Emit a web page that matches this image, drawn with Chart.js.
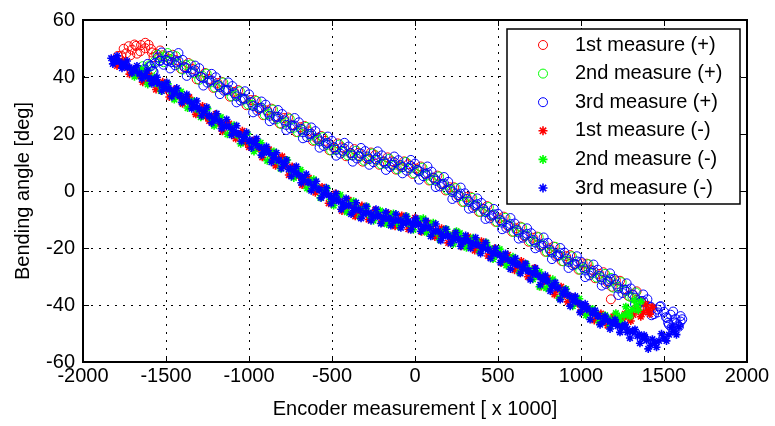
<!DOCTYPE html>
<html>
<head>
<meta charset="utf-8">
<title>Bending angle vs encoder measurement</title>
<script src="https://cdn.jsdelivr.net/npm/chart.js"></script>
<style>
  html, body { margin: 0; padding: 0; background: #fff; }
  #wrap { width: 775px; height: 426px; }
</style>
</head>
<body>
<div id="wrap"><canvas id="bendingChart" width="775" height="426"></canvas></div>
<script>
// Eixos
const X_TICKS = [-2000, -1500, -1000, -500, 0, 500, 1000, 1500, 2000];
const Y_TICKS = [-60, -40, -20, 0, 20, 40, 60];

const SERIES_LABELS = [
    '1st measure (+)', '2nd measure (+)', '3rd measure (+)',
    '1st measure (-)', '2nd measure (-)', '3rd measure (-)'
];
const SERIES_COLORS = ['#ff0000', '#00ff00', '#0000ff', '#ff0000', '#00ff00', '#0000ff'];

// Ramo superior (+) : [encoder, angulo]
const measure1Plus = [
    [-1805,46.0],[-1770,47.5],[-1740,48.3],[-1705,49.6],[-1680,50.9],[-1650,51.2],[-1625,50.1],[-1590,49.8],
    [-1560,48.2],[-1520,47.6],[-1480,46.4],[-1440,45.9],[-1390,43.6],[-1340,42.8],[-1290,40.1],[-1240,39.3],
    [-1190,37.9],[-1140,35.4],[-1090,34.8],[-1040,32.6],[-990,31.9],[-940,28.8],[-890,28.3],[-840,25.9],
    [-790,25.6],[-740,23.1],[-690,22.4],[-640,20.9],[-590,18.2],[-540,17.6],[-490,15.1],[-440,15.3],
    [-390,13.2],[-340,13.4],[-290,11.3],[-240,12.6],[-190,10.2],[-140,10.4],[-90,8.6],[-40,9.4],
    [10,7.9],[60,6.1],[110,4.6],[160,2.4],[210,1.3],[260,-1.6],[310,-2.1],[360,-5.3],
    [410,-6.2],[460,-8.7],[510,-9.6],[560,-12.3],[610,-13.1],[660,-15.9],[710,-16.4],[760,-19.2],
    [810,-20.1],[860,-22.8],[910,-22.9],[960,-25.7],[1010,-25.4],[1060,-27.6],[1110,-29.1],[1160,-32.0],
    [1180,-38.0],[1210,-31.4],[1260,-34.6],[1310,-36.2],[1360,-38.9],[1400,-40.3],[1430,-41.2],
    [-1775,45.9],[-1725,50.8],[-1675,48.2],[-1625,52.0],[-1575,47.0],[-1535,49.3],[-1460,47.8],[-1410,42.9],
    [-1365,44.9],[-1315,39.2],[-1265,41.4],[-1215,36.2],[-1165,38.3],[-1115,33.1],[-1065,35.4],[-1015,30.1],
    [-965,31.9],[-915,26.6],[-865,28.9],[-815,23.7],[-765,25.8],[-715,20.7],[-665,22.8],[-615,17.6],
    [-565,19.3],[-515,14.3],[-465,16.7],[-415,12.2],[-365,14.7],[-315,10.3],[-265,13.5],[-215,9.2],
    [-165,11.8],[-115,7.5],[-65,10.4],[-15,6.0],[35,8.6],[85,3.7],[135,5.4],[185,0.2],
    [235,1.3],[285,-3.8],[335,-2.0],[385,-7.3],[435,-5.3],[485,-10.8],[535,-9.0],[585,-14.3],
    [635,-12.5],[685,-17.8],[735,-16.0],[785,-21.3],[835,-19.5],[885,-24.6],[935,-22.5],[985,-27.6],
    [1035,-25.5],[1085,-30.6],[1135,-28.5],[1185,-33.6],[1235,-31.5],[1285,-36.8],[1335,-35.2],[1385,-41.2],
    [-1790,47.4],[-1755,49.9],[-1715,47.6],[-1690,51.4],[-1655,49.0],[-1605,51.3],[-1585,48.6]
];
const measure2Plus = [
    [-1655,41.8],[-1630,42.9],[-1600,44.1],[-1570,45.3],[-1540,46.6],[-1505,47.2],[-1470,46.1],[-1430,44.6],
    [-1380,44.2],[-1330,41.3],[-1280,40.4],[-1230,38.1],[-1180,37.0],[-1130,35.2],[-1080,33.6],[-1030,32.1],
    [-980,30.2],[-930,29.1],[-880,27.0],[-830,25.3],[-780,24.1],[-730,22.2],[-680,21.6],[-630,19.4],
    [-580,17.9],[-530,16.2],[-480,14.6],[-430,13.8],[-380,12.6],[-330,12.1],[-280,11.4],[-230,10.9],
    [-180,9.7],[-130,9.1],[-80,8.3],[-30,7.9],[20,7.2],[70,5.4],[120,4.1],[170,2.2],
    [220,0.1],[270,-1.8],[320,-3.4],[370,-5.2],[420,-7.1],[470,-8.4],[520,-10.6],[570,-12.1],
    [620,-14.0],[670,-15.6],[720,-17.8],[770,-19.0],[820,-21.3],[870,-22.6],[920,-24.4],[970,-25.8],
    [1020,-27.2],[1070,-28.9],[1120,-30.3],[1180,-30.5],[1170,-31.9],[1220,-33.6],[1270,-35.1],[1310,-37.4],
    [1350,-39.2],
    [-1640,43.8],[-1615,41.9],[-1585,42.8],[-1550,47.8],[-1515,45.2],[-1490,48.4],[-1440,47.3],[-1400,42.6],
    [-1350,44.4],[-1300,39.0],[-1255,41.2],[-1205,36.3],[-1155,38.1],[-1105,33.2],[-1055,35.0],[-1005,30.4],
    [-955,31.6],[-905,26.7],[-855,28.6],[-805,23.5],[-755,25.4],[-705,20.6],[-655,22.5],[-605,17.8],
    [-555,18.9],[-505,14.2],[-455,16.3],[-405,12.5],[-355,14.1],[-305,10.6],[-255,13.2],[-205,9.4],
    [-155,11.3],[-105,7.6],[-55,10.2],[-5,6.2],[45,8.2],[95,3.8],[145,5.1],[195,0.4],
    [245,1.0],[295,-3.9],[345,-2.4],[395,-7.4],[445,-5.6],[495,-10.9],[545,-9.4],[595,-14.4],
    [645,-12.8],[695,-17.6],[745,-16.2],[795,-21.4],[845,-19.6],[895,-24.7],[945,-22.9],[995,-27.6],
    [1045,-25.7],[1095,-30.4],[1145,-29.1],[1195,-33.9],[1245,-32.0],[1295,-37.1],[1330,-35.6],[1370,-40.4]
];
const measure3Plus = [
    [-1625,42.6],[-1595,43.8],[-1565,44.9],[-1535,45.6],[-1500,46.0],[-1465,45.2],[-1425,45.6],[-1375,43.1],
    [-1325,42.4],[-1275,39.6],[-1225,38.8],[-1175,36.4],[-1125,35.6],[-1075,33.2],[-1025,32.4],[-975,29.8],
    [-925,29.3],[-875,26.4],[-825,26.0],[-775,23.2],[-725,23.0],[-675,20.6],[-625,20.1],[-575,17.4],
    [-525,16.9],[-475,14.4],[-425,14.9],[-375,12.4],[-325,13.1],[-275,11.2],[-225,11.8],[-175,9.6],
    [-125,10.1],[-75,8.4],[-25,8.8],[25,6.9],[75,6.3],[125,3.6],[175,2.6],[225,-0.4],
    [275,-0.9],[325,-3.9],[375,-4.6],[425,-7.4],[475,-8.2],[525,-11.1],[575,-11.6],[625,-14.6],
    [675,-15.0],[725,-18.1],[775,-18.4],[825,-21.6],[875,-21.8],[925,-24.9],[975,-24.7],[1025,-27.9],
    [1075,-28.0],[1125,-31.1],[1175,-31.0],[1225,-34.2],[1275,-34.6],[1325,-37.4],[1375,-38.6],[1420,-40.6],
    [1460,-41.6],[1500,-42.4],[1540,-43.4],[1570,-44.9],[1600,-45.8],[1590,-47.6],[1560,-48.3],[1530,-46.9],
    [-1610,44.6],[-1580,42.1],[-1550,46.9],[-1515,44.3],[-1480,47.4],[-1445,44.1],[-1400,46.0],[-1350,41.6],
    [-1300,43.1],[-1250,38.0],[-1200,39.9],[-1150,35.2],[-1100,36.8],[-1050,31.7],[-1000,33.9],[-950,28.2],
    [-900,30.3],[-850,25.1],[-800,27.0],[-750,22.0],[-700,24.1],[-650,18.9],[-600,21.0],[-550,15.8],
    [-500,17.6],[-450,13.1],[-400,15.6],[-350,11.4],[-300,14.0],[-250,10.1],[-200,12.5],[-150,8.4],
    [-100,10.8],[-50,7.1],[0,9.6],[50,5.2],[100,6.8],[150,1.6],[200,3.2],[250,-2.2],
    [300,-0.8],[350,-5.9],[400,-4.2],[450,-9.6],[500,-8.0],[550,-12.9],[600,-11.4],[650,-16.4],
    [700,-14.8],[750,-19.6],[800,-18.2],[850,-23.0],[900,-21.6],[950,-26.1],[1000,-24.8],[1050,-29.6],
    [1100,-27.6],[1150,-32.6],[1200,-30.8],[1250,-35.8],[1300,-34.2],[1350,-39.4],[1400,-38.0],[1440,-43.2],
    [1480,-40.4],[1520,-44.6],[1555,-42.3],[1585,-47.2],[1610,-45.0],[1575,-46.4],[1545,-47.9],
    [-1588,43.9],[-1538,45.8],[-1488,45.6],[-1438,45.1],[-1388,43.4],[-1338,41.9],[-1288,40.0],[-1238,38.7],
    [-1188,37.2],[-1138,35.5],[-1088,34.3],[-1038,32.4],[-988,31.2],[-938,29.1],[-888,27.8],[-838,26.1],
    [-788,24.8],[-738,23.0],[-688,21.8],[-638,20.0],[-588,18.7],[-538,16.7],[-488,15.4],[-438,14.1],
    [-388,13.4],[-338,12.2],[-288,12.1],[-238,11.1],[-188,10.4],[-138,9.2],[-88,9.1],[-38,8.1],
    [12,7.4],[62,6.0],[112,4.7],[162,2.4],[212,0.7],[262,-1.5],[312,-2.8],[362,-5.0],
    [412,-6.3],[462,-8.6],[512,-10.2],[562,-12.1],[612,-13.7],[662,-15.6],[712,-17.2],[762,-19.1],
    [812,-20.7],[862,-22.5],[912,-23.7],[962,-25.6],[1012,-26.7],[1062,-28.6],[1112,-29.8],[1162,-31.6],
    [1212,-32.8],[1262,-34.6],[1312,-36.4],[1362,-38.6],[1412,-40.7],[1462,-42.6],[1512,-44.3],[1562,-46.1],
    [-1575,41.8],[-1525,48.6],[-1475,43.0],[-1425,48.4],[-1375,40.4],[-1325,44.0],[-1275,37.0],[-1225,41.1],
    [-1175,34.0],[-1125,38.1],[-1075,31.1],[-1025,35.0],[-975,27.6],[-925,31.4],[-875,24.5],[-825,28.4],
    [-775,21.4],[-725,25.6],[-675,18.5],[-625,22.3],[-575,15.2],[-525,19.1],[-475,12.4],[-425,16.9],
    [-375,10.3],[-325,15.1],[-275,9.2],[-225,13.9],[-175,7.4],[-125,12.1],[-75,6.2],[-25,10.9],
    [25,4.0],[75,8.6],[125,1.4],[175,4.9],[225,-2.8],[275,1.2],[325,-6.2],[375,-2.6],
    [425,-9.8],[475,-6.3],[525,-13.4],[575,-9.5],[625,-16.7],[675,-13.1],[725,-20.1],[775,-16.3],
    [825,-23.9],[875,-20.0],[925,-27.0],[975,-22.9],[1025,-30.2],[1075,-25.8],[1125,-33.2],[1175,-28.9],
    [1225,-36.5],[1275,-32.4],[1325,-39.6],[1375,-36.3],[1425,-43.6],[1475,-40.6],[1525,-46.2],[1600,-43.9]
];

// Ramo inferior (-)
const measure1Minus = [
    [1430,-40.8],[1405,-41.9],[1375,-42.6],[1345,-42.1],[1315,-43.5],[1285,-44.2],[1250,-44.8],[1215,-45.6],
    [1180,-45.1],[1140,-44.6],[1100,-43.9],[1060,-42.6],[1020,-40.4],[980,-39.6],[940,-37.1],[900,-36.4],
    [860,-34.6],[820,-32.1],[780,-31.6],[740,-29.2],[700,-28.9],[660,-26.6],[620,-26.4],[580,-24.1],
    [540,-23.9],[500,-21.6],[460,-21.8],[420,-19.1],[380,-19.6],[340,-17.4],[300,-18.3],[260,-16.4],
    [220,-16.9],[180,-14.8],[140,-15.6],[100,-12.4],[60,-13.4],[20,-11.2],[-20,-12.1],[-60,-10.6],
    [-100,-11.4],[-140,-9.3],[-180,-10.1],[-220,-8.6],[-260,-9.4],[-300,-6.9],[-340,-7.4],[-380,-5.1],
    [-420,-5.6],[-460,-3.0],[-500,-3.4],[-540,-0.8],[-580,0.6],[-620,2.9],[-660,3.4],[-700,5.1],
    [-740,8.6],[-780,8.9],[-820,11.4],[-860,11.1],[-900,14.6],[-940,14.9],[-980,17.6],[-1020,16.9],
    [-1060,19.8],[-1100,20.4],[-1140,23.9],[-1180,23.6],[-1220,25.9],[-1260,26.1],[-1300,28.4],[-1340,30.3],
    [-1380,32.6],[-1420,33.1],[-1460,34.9],[-1500,35.6],[-1540,37.4],[-1580,38.4],[-1620,39.6],[-1660,40.5],
    [-1700,41.8],[-1740,43.6],[-1780,44.6],[-1810,46.1],
    [1415,-43.2],[1390,-39.9],[1360,-44.1],[1330,-41.0],[1300,-45.6],[1265,-43.1],[1230,-46.8],[1195,-44.0],
    [1160,-47.2],[1120,-43.0],[1080,-45.4],[1040,-41.0],[1000,-42.3],[960,-37.4],[920,-38.9],[880,-33.6],
    [840,-36.3],[800,-30.4],[760,-33.5],[720,-27.0],[680,-30.1],[640,-24.6],[600,-27.8],[560,-22.4],
    [520,-25.2],[480,-20.1],[440,-22.8],[400,-17.6],[360,-20.9],[320,-16.0],[280,-19.4],[240,-14.9],
    [200,-18.2],[160,-13.1],[120,-16.1],[80,-11.2],[40,-14.3],[0,-9.4],[-40,-13.4],[-80,-8.6],
    [-120,-12.4],[-160,-7.8],[-200,-11.1],[-240,-6.7],[-280,-10.0],[-320,-5.1],[-360,-8.9],[-400,-3.1],
    [-440,-7.0],[-480,-0.9],[-520,-4.3],[-560,1.4],[-600,-0.6],[-640,4.6],[-680,2.1],[-720,8.0],
    [-760,5.6],[-800,12.1],[-840,8.9],[-880,14.6],[-920,11.8],[-960,17.9],[-1000,15.4],[-1040,21.1],
    [-1080,18.4],[-1120,23.6],[-1160,21.0],[-1200,27.0],[-1240,24.6],[-1280,29.8],[-1320,26.9],[-1360,32.9],
    [-1400,30.6],[-1440,35.8],[-1480,33.0],[-1520,38.3],[-1560,35.6],[-1600,40.6],[-1640,38.2],[-1680,43.2],
    [-1720,41.0],[-1760,45.6],[-1795,43.9]
];
const measure2Minus = [
    [1360,-38.8],[1335,-40.2],[1310,-41.6],[1285,-42.4],[1260,-43.6],[1230,-44.1],[1200,-45.3],[1165,-44.6],
    [1130,-45.2],[1090,-43.1],[1050,-41.4],[1010,-40.6],[970,-38.1],[930,-36.9],[890,-35.6],[850,-33.1],
    [810,-32.4],[770,-30.1],[750,-33.6],[730,-29.6],[690,-27.4],[650,-27.1],[610,-25.1],[570,-24.6],
    [530,-22.8],[490,-22.3],[450,-20.1],[410,-19.6],[370,-17.6],[330,-18.1],[290,-16.6],[250,-14.1],
    [210,-15.4],[170,-14.1],[130,-14.6],[90,-12.1],[50,-9.6],[10,-10.6],[-30,-11.6],[-70,-10.1],
    [-110,-10.9],[-150,-8.9],[-190,-9.6],[-230,-7.9],[-270,-8.6],[-310,-6.4],[-350,-6.1],[-390,-4.4],
    [-430,-4.9],[-470,-2.4],[-510,-2.9],[-550,0.1],[-590,1.1],[-630,3.4],[-670,4.1],[-710,6.6],
    [-750,7.4],[-790,10.1],[-830,10.6],[-870,12.9],[-910,13.6],[-950,16.4],[-990,16.9],[-1030,19.1],
    [-1070,19.6],[-1110,22.1],[-1150,22.6],[-1190,25.1],[-1230,25.6],[-1270,28.1],[-1310,28.6],[-1350,31.4],
    [-1390,31.9],[-1430,34.4],[-1470,35.1],[-1510,37.1],[-1550,37.6],[-1590,39.4],[-1630,40.1],[-1670,41.9],
    [-1700,42.4],
    [1345,-41.8],[1320,-38.4],[1295,-44.0],[1270,-40.6],[1240,-46.1],[1210,-42.9],[1175,-47.4],[1145,-43.6],
    [1110,-46.1],[1070,-41.4],[1030,-43.6],[990,-37.8],[950,-40.4],[910,-34.4],[870,-37.6],[830,-31.0],
    [790,-34.1],[750,-28.4],[710,-31.0],[670,-25.6],[630,-28.6],[590,-23.1],[550,-26.1],[510,-20.4],
    [470,-23.9],[430,-18.1],[390,-21.4],[350,-16.4],[310,-19.9],[270,-14.8],[230,-18.6],[190,-13.4],
    [150,-17.1],[110,-11.1],[70,-14.6],[30,-9.9],[-10,-13.6],[-50,-8.9],[-90,-12.6],[-130,-7.9],
    [-170,-11.6],[-210,-6.9],[-250,-10.4],[-290,-5.4],[-330,-9.1],[-370,-3.6],[-410,-7.4],[-450,-1.4],
    [-490,-5.1],[-530,0.9],[-570,-2.4],[-610,4.1],[-650,0.9],[-690,7.4],[-730,4.6],[-770,10.9],
    [-810,7.9],[-850,13.9],[-890,10.6],[-930,16.9],[-970,13.9],[-1010,20.1],[-1050,16.6],[-1090,23.1],
    [-1130,19.9],[-1170,25.9],[-1210,22.9],[-1250,28.9],[-1290,25.9],[-1330,31.6],[-1370,29.1],[-1410,34.9],
    [-1450,32.1],[-1490,37.6],[-1530,35.1],[-1570,39.9],[-1610,37.4],[-1650,42.6],[-1690,40.1]
];
const measure3Minus = [
    [1590,-47.6],[1560,-49.2],[1530,-50.4],[1500,-51.6],[1470,-52.6],[1445,-53.4],[1420,-54.1],[1395,-52.4],
    [1370,-51.6],[1340,-50.9],[1310,-49.4],[1280,-49.6],[1250,-47.9],[1220,-47.4],[1190,-46.6],[1160,-45.4],
    [1130,-45.9],[1100,-43.9],[1070,-43.1],[1040,-41.1],[1010,-40.9],[980,-39.1],[950,-38.6],[920,-36.4],
    [890,-36.1],[860,-33.9],[830,-33.6],[800,-31.6],[770,-31.1],[740,-29.4],[710,-29.1],[680,-27.9],
    [650,-27.4],[620,-25.9],[590,-25.4],[560,-24.1],[530,-23.6],[500,-22.1],[470,-21.9],[440,-20.4],
    [410,-20.1],[380,-18.9],[350,-18.6],[320,-17.4],[290,-17.9],[260,-16.6],[230,-17.1],[200,-15.6],
    [170,-15.9],[140,-14.1],[110,-14.4],[80,-12.6],[50,-13.1],[20,-11.4],[-10,-12.0],[-40,-10.6],
    [-70,-11.4],[-100,-10.1],[-130,-10.6],[-160,-9.4],[-190,-9.9],[-220,-8.4],[-250,-9.1],[-280,-7.6],
    [-310,-8.1],[-340,-6.4],[-370,-6.9],[-400,-5.1],[-430,-5.4],[-460,-3.6],[-490,-3.1],[-520,-1.4],
    [-550,-1.1],[-580,0.6],[-610,1.4],[-640,3.1],[-670,3.9],[-700,5.6],[-730,6.9],[-760,7.6],
    [-790,9.4],[-820,10.6],[-850,11.6],[-880,13.4],[-910,13.6],[-940,15.4],[-970,16.9],[-1000,17.4],
    [-1030,19.1],[-1060,19.9],[-1090,21.1],[-1120,22.6],[-1150,22.9],[-1180,24.6],[-1210,25.4],[-1240,26.1],
    [-1270,27.9],[-1300,28.6],[-1330,29.9],[-1360,31.4],[-1390,32.1],[-1420,33.6],[-1450,34.4],[-1480,35.6],
    [-1510,36.4],[-1540,37.6],[-1570,38.9],[-1600,39.4],[-1630,40.6],[-1660,41.4],[-1690,42.6],[-1720,43.4],
    [-1750,44.1],[-1780,45.4],[-1810,45.9],[-1830,46.6],
    [1575,-50.4],[1545,-47.9],[1515,-52.6],[1485,-50.1],[1455,-54.8],[1430,-52.0],[1405,-55.4],[1380,-50.6],
    [1355,-53.4],[1325,-48.6],[1295,-51.6],[1265,-46.9],[1235,-49.6],[1205,-45.1],[1175,-48.4],[1145,-43.9],
    [1115,-46.9],[1085,-41.9],[1055,-45.1],[1025,-39.6],[995,-42.6],[965,-36.9],[935,-40.4],[905,-34.6],
    [875,-38.1],[845,-32.1],[815,-35.1],[785,-29.6],[755,-32.9],[725,-27.1],[695,-31.1],[665,-25.4],
    [635,-28.9],[605,-23.6],[575,-27.4],[545,-21.9],[515,-25.1],[485,-20.1],[455,-23.6],[425,-18.1],
    [395,-21.9],[365,-16.4],[335,-20.1],[305,-15.6],[275,-19.4],[245,-14.6],[215,-18.4],[185,-13.4],
    [155,-17.4],[125,-11.6],[95,-15.9],[65,-10.4],[35,-14.1],[5,-9.6],[-25,-13.6],[-55,-8.9],
    [-85,-12.9],[-115,-8.1],[-145,-12.1],[-175,-7.4],[-205,-11.4],[-235,-6.4],[-265,-10.4],[-295,-5.4],
    [-325,-9.6],[-355,-4.1],[-385,-8.1],[-415,-2.6],[-445,-6.4],[-475,-0.9],[-505,-4.4],[-535,1.1],
    [-565,-2.4],[-595,3.4],[-625,0.1],[-655,5.9],[-685,2.9],[-715,8.6],[-745,5.1],[-775,10.9],
    [-805,7.9],[-835,13.4],[-865,10.1],[-895,15.6],[-925,12.6],[-955,18.4],[-985,15.1],[-1015,20.6],
    [-1045,17.4],[-1075,22.9],[-1105,19.6],[-1135,25.1],[-1165,21.9],[-1195,27.1],[-1225,23.9],[-1255,29.4],
    [-1285,26.4],[-1315,31.6],[-1345,28.9],[-1375,33.9],[-1405,31.1],[-1435,36.1],[-1465,33.1],[-1495,38.1],
    [-1525,35.1],[-1555,39.9],[-1585,37.6],[-1615,42.1],[-1645,39.4],[-1675,43.9],[-1705,41.4],[-1735,45.6],
    [-1765,43.1],[-1795,47.4],[-1820,44.6],
    [1385,-51.2],[1350,-50.3],[1315,-49.1],[1280,-48.4],[1245,-47.6],[1210,-46.4],[1175,-45.9],[1140,-44.6],
    [1105,-43.8],[1070,-42.4],[1035,-41.6],[1000,-39.7],[965,-38.6],[930,-36.8],[895,-35.9],[860,-34.1],
    [825,-33.2],[790,-31.4],[755,-30.3],[720,-28.9],[685,-28.1],[650,-26.8],[615,-25.6],[580,-24.6],
    [545,-23.7],[510,-22.6],[475,-21.8],[440,-20.6],[405,-19.8],[370,-18.7],[335,-18.3],[300,-17.4],
    [265,-17.3],[230,-16.2],[195,-15.8],[160,-15.1],[125,-13.9],[90,-13.1],[55,-12.4],[20,-11.9],
    [-15,-11.2],[-50,-11.1],[-85,-10.4],[-120,-10.3],[-155,-9.8],[-190,-9.1],[-225,-8.9],[-260,-8.2],
    [-295,-7.6],[-330,-6.8],[-365,-6.1],[-400,-4.9],[-435,-4.1],[-470,-2.9],[-505,-2.1],[-540,-0.7],
    [-575,0.4],[-610,1.9],[-645,3.1],[-680,4.9],[-715,6.4],[-750,7.9],[-785,9.6],[-820,10.9],
    [-855,12.4],[-890,14.1],[-925,15.1],[-960,16.6],[-995,17.9],[-1030,18.9],[-1065,20.1],[-1100,21.6],
    [-1135,22.6],[-1170,24.1],[-1205,25.1],[-1240,26.6],[-1275,28.1],[-1310,29.4],[-1345,30.9],[-1380,32.4],
    [-1415,33.4],[-1450,34.9],[-1485,36.1],[-1520,37.1],[-1555,38.1],[-1590,39.4],[-1625,40.4],[-1660,41.1],
    [-1695,42.6],[-1730,43.4],[-1765,44.6],[-1800,45.6]
];

const SERIES_DATA = [measure1Plus, measure2Plus, measure3Plus, measure1Minus, measure2Minus, measure3Minus];

// ----------------------------------------------------
// ESTILO
// ----------------------------------------------------
const FONT = '"Liberation Sans", Arial, sans-serif';
const TICK_LEN = 6;
const LEGEND_BOX = { left: 507, top: 29, width: 233, height: 175, symbolX: 36, textX: 68, firstRow: 16, rowGap: 28.6 };

function drawMarker(ctx, style, radius, x, y) {
    if (window.Chart && Chart.helpers && Chart.helpers.drawPoint) {
        Chart.helpers.drawPoint(ctx, { pointStyle: style, radius: radius, borderWidth: 1, rotation: 0 }, x, y);
        return;
    }
    ctx.beginPath();
    if (style === 'circle') {
        ctx.arc(x, y, radius, 0, Math.PI * 2);
    } else {
        const d = radius * Math.SQRT1_2;
        ctx.moveTo(x - radius, y); ctx.lineTo(x + radius, y);
        ctx.moveTo(x, y - radius); ctx.lineTo(x, y + radius);
        ctx.moveTo(x - d, y - d); ctx.lineTo(x + d, y + d);
        ctx.moveTo(x - d, y + d); ctx.lineTo(x + d, y - d);
    }
    ctx.stroke();
}

// Caixa + ticks para dentro, estilo MATLAB
const matlabFrame = {
    id: 'matlabFrame',
    afterDatasetsDraw(chart) {
        const { ctx, chartArea: a, scales: { x, y } } = chart;
        ctx.save();
        ctx.strokeStyle = '#000';
        ctx.lineWidth = 1;
        ctx.beginPath();
        X_TICKS.forEach(v => {
            const px = Math.round(x.getPixelForValue(v)) + 0.5;
            ctx.moveTo(px, a.bottom); ctx.lineTo(px, a.bottom - TICK_LEN);
            ctx.moveTo(px, a.top); ctx.lineTo(px, a.top + TICK_LEN);
        });
        Y_TICKS.forEach(v => {
            const py = Math.round(y.getPixelForValue(v)) + 0.5;
            ctx.moveTo(a.left, py); ctx.lineTo(a.left + TICK_LEN, py);
            ctx.moveTo(a.right, py); ctx.lineTo(a.right - TICK_LEN, py);
        });
        ctx.stroke();
        ctx.lineWidth = 2;
        ctx.strokeRect(a.left, a.top, a.right - a.left, a.bottom - a.top);
        ctx.restore();
    }
};

// Legenda com moldura dentro da area do grafico
const boxLegend = {
    id: 'boxLegend',
    afterDraw(chart) {
        const { ctx } = chart;
        const L = LEGEND_BOX;
        ctx.save();
        ctx.fillStyle = '#fff';
        ctx.fillRect(L.left, L.top, L.width, L.height);
        ctx.strokeStyle = '#000';
        ctx.lineWidth = 1.5;
        ctx.strokeRect(L.left, L.top, L.width, L.height);
        chart.data.datasets.forEach((ds, i) => {
            const cy = L.top + L.firstRow + i * L.rowGap;
            ctx.strokeStyle = ds.borderColor;
            ctx.fillStyle = 'rgba(0,0,0,0)';
            ctx.lineWidth = ds.borderWidth;
            drawMarker(ctx, ds.pointStyle, 4.5, L.left + L.symbolX, cy);
            ctx.fillStyle = '#000';
            ctx.font = '20px ' + FONT;
            ctx.textAlign = 'left';
            ctx.textBaseline = 'middle';
            ctx.fillText(ds.label, L.left + L.textX, cy);
        });
        ctx.restore();
    }
};

const datasets = SERIES_DATA.map((pts, i) => ({
    label: SERIES_LABELS[i],
    data: pts.map(p => ({ x: p[0], y: p[1] })),
    pointStyle: i < 3 ? 'circle' : 'star',
    pointRadius: i < 3 ? 4.5 : 4,
    pointHoverRadius: i < 3 ? 4.5 : 4,
    borderWidth: i < 3 ? 1 : 1.6,
    borderColor: SERIES_COLORS[i],
    backgroundColor: 'rgba(0,0,0,0)',
    order: 6 - i
}));

const gridStyle = { color: '#000', lineWidth: 1, drawTicks: false };

new Chart(document.getElementById('bendingChart'), {
    type: 'scatter',
    data: { datasets },
    plugins: [matlabFrame, boxLegend],
    options: {
        responsive: false,
        animation: false,
        devicePixelRatio: 1,
        layout: { padding: { top: 20, right: 28, left: 0, bottom: 0 } },
        plugins: { legend: { display: false }, tooltip: { enabled: false } },
        scales: {
            x: {
                type: 'linear',
                min: -2000,
                max: 2000,
                afterBuildTicks: s => { s.ticks = X_TICKS.map(v => ({ value: v })); },
                afterFit: s => { s.height = 64; },
                grid: gridStyle,
                border: { display: false, dash: [2, 6] },
                ticks: { color: '#000', padding: 2, maxRotation: 0, font: { family: FONT, size: 20 }, callback: v => String(v) },
                title: { display: true, text: 'Encoder measurement [ x 1000]', color: '#000', padding: { top: 0, bottom: 5 }, font: { family: FONT, size: 20 } }
            },
            y: {
                type: 'linear',
                min: -60,
                max: 60,
                afterBuildTicks: s => { s.ticks = Y_TICKS.map(v => ({ value: v })); },
                afterFit: s => { s.width = 83; },
                grid: gridStyle,
                border: { display: false, dash: [2, 6] },
                ticks: { color: '#000', padding: 8, font: { family: FONT, size: 20 }, callback: v => String(v) },
                title: { display: true, text: 'Bending angle [deg]', color: '#000', padding: { top: 11, bottom: 0 }, font: { family: FONT, size: 20 } }
            }
        }
    }
});
</script>
</body>
</html>
